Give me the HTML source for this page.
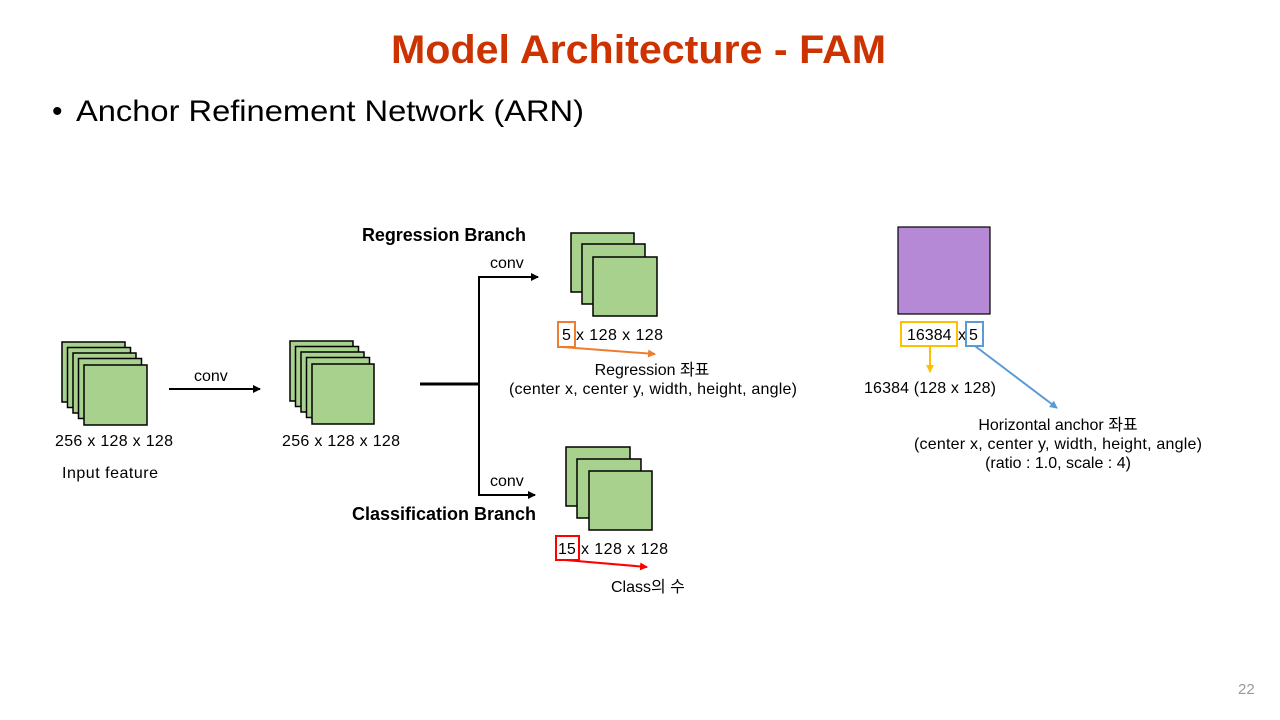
<!DOCTYPE html>
<html><head><meta charset="utf-8"><style>
html,body{margin:0;padding:0;background:#fff}
svg{display:block}
text{font-family:"Liberation Sans","Noto Sans CJK KR",sans-serif;fill:#000}
</style></head><body>
<svg width="1280" height="720" viewBox="0 0 1280 720" xmlns="http://www.w3.org/2000/svg">
<defs>
<marker id="ak" markerWidth="8" markerHeight="8" refX="7" refY="4" orient="auto" markerUnits="userSpaceOnUse"><path d="M0,0 L8,4 L0,8 z" fill="#000"/></marker>
<marker id="ao" markerWidth="8" markerHeight="8" refX="7" refY="4" orient="auto" markerUnits="userSpaceOnUse"><path d="M0,0 L8,4 L0,8 z" fill="#ed7d31"/></marker>
<marker id="ar" markerWidth="8" markerHeight="8" refX="7" refY="4" orient="auto" markerUnits="userSpaceOnUse"><path d="M0,0 L8,4 L0,8 z" fill="#ff0000"/></marker>
<marker id="ay" markerWidth="8" markerHeight="8" refX="7" refY="4" orient="auto" markerUnits="userSpaceOnUse"><path d="M0,0 L8,4 L0,8 z" fill="#ffc000"/></marker>
<marker id="ab" markerWidth="8" markerHeight="8" refX="7" refY="4" orient="auto" markerUnits="userSpaceOnUse"><path d="M0,0 L8,4 L0,8 z" fill="#5b9bd5"/></marker>
</defs>

<text x="391" y="63" font-size="40" font-weight="bold" style="fill:#cc3300" textLength="495" lengthAdjust="spacingAndGlyphs">Model Architecture - FAM</text>
<text x="52" y="121" font-size="30">•</text>
<text x="76" y="121" font-size="30" textLength="508" lengthAdjust="spacingAndGlyphs">Anchor Refinement Network (ARN)</text>

<g fill="#a9d18e" stroke="#000" stroke-width="1.5">
<rect x="62" y="342" width="63" height="60"/>
<rect x="67.5" y="347.5" width="63" height="60"/>
<rect x="73" y="353" width="63" height="60"/>
<rect x="78.5" y="358.5" width="63" height="60"/>
<rect x="84" y="365" width="63" height="60"/>

<rect x="290" y="341" width="63" height="60"/>
<rect x="295.5" y="346.5" width="63" height="60"/>
<rect x="301" y="352" width="63" height="60"/>
<rect x="306.5" y="357.5" width="63" height="60"/>
<rect x="312" y="364" width="62" height="60"/>

<rect x="571" y="233" width="63" height="59"/>
<rect x="582" y="244" width="63" height="60"/>
<rect x="593" y="257" width="64" height="59"/>

<rect x="566" y="447" width="64" height="59"/>
<rect x="577" y="459" width="64" height="59"/>
<rect x="589" y="471" width="63" height="59"/>
</g>
<rect x="898" y="227" width="92" height="87" fill="#b589d6" stroke="#000" stroke-width="1.2"/>

<g font-size="16">
<text x="55" y="446" textLength="118">256 x 128 x 128</text>
<text x="62" y="478" textLength="96">Input feature</text>
<text x="194" y="381">conv</text>
<text x="282" y="446" textLength="118">256 x 128 x 128</text>
<text x="490" y="268">conv</text>
<text x="490" y="486">conv</text>
<text x="562" y="340">5</text>
<text x="576" y="340" textLength="87">x 128 x 128</text>
<text x="652" y="375" text-anchor="middle">Regression 좌표</text>
<text x="653" y="394" text-anchor="middle" textLength="288">(center x, center y, width, height, angle)</text>
<text x="558" y="554">15</text>
<text x="581" y="554" textLength="87">x 128 x 128</text>
<text x="611" y="592">Class의 수</text>
<text x="907" y="340">16384</text>
<text x="958" y="340">x</text>
<text x="969" y="340">5</text>
<text x="864" y="393" textLength="132">16384 (128 x 128)</text>
<text x="1058" y="430" text-anchor="middle">Horizontal anchor 좌표</text>
<text x="1058" y="449" text-anchor="middle" textLength="288">(center x, center y, width, height, angle)</text>
<text x="1058" y="468" text-anchor="middle">(ratio : 1.0, scale : 4)</text>
</g>
<text x="362" y="241" font-size="18" font-weight="bold" textLength="164">Regression Branch</text>
<text x="352" y="520" font-size="18" font-weight="bold" textLength="184">Classification Branch</text>
<text x="1238" y="694" font-size="15" style="fill:#999">22</text>

<g stroke="#000" stroke-width="2" fill="none">
<line x1="169" y1="389" x2="260" y2="389" marker-end="url(#ak)"/>
<line x1="420" y1="384" x2="479" y2="384" stroke-width="3"/>
<polyline points="538,277 479,277 479,495 535,495" stroke-width="2"/>
</g>
<line x1="479" y1="277" x2="538" y2="277" stroke="#000" stroke-width="2" marker-end="url(#ak)"/>
<line x1="479" y1="495" x2="535" y2="495" stroke="#000" stroke-width="2" marker-end="url(#ak)"/>

<rect x="558" y="322" width="17" height="25" fill="none" stroke="#ed7d31" stroke-width="2"/>
<line x1="562" y1="347" x2="655" y2="354" stroke="#ed7d31" stroke-width="2" marker-end="url(#ao)"/>
<rect x="556" y="536" width="23" height="24" fill="none" stroke="#ff0000" stroke-width="2"/>
<line x1="565" y1="560" x2="647" y2="567" stroke="#ff0000" stroke-width="2" marker-end="url(#ar)"/>
<rect x="901" y="322" width="56" height="24" fill="none" stroke="#ffc000" stroke-width="2"/>
<line x1="930" y1="346" x2="930" y2="372" stroke="#ffc000" stroke-width="2" marker-end="url(#ay)"/>
<rect x="966" y="322" width="17" height="24" fill="none" stroke="#5b9bd5" stroke-width="2"/>
<line x1="975" y1="346" x2="1057" y2="408" stroke="#5b9bd5" stroke-width="2" marker-end="url(#ab)"/>
</svg>
</body></html>
